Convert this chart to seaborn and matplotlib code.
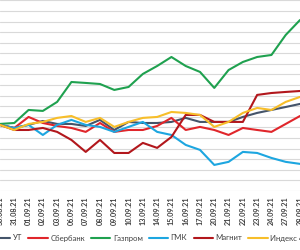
import numpy as np
import pandas as pd
import matplotlib
matplotlib.use("Agg")
import matplotlib.pyplot as plt
import seaborn as sns

dates = ["30.08.21", "31.08.21", "01.09.21", "02.09.21", "03.09.21", "06.09.21",
         "07.09.21", "08.09.21", "09.09.21", "10.09.21", "13.09.21", "14.09.21",
         "15.09.21", "16.09.21", "17.09.21", "20.09.21", "21.09.21", "22.09.21",
         "23.09.21", "24.09.21", "27.09.21", "28.09.21"]

ut = [0.24, -0.05, 0.24, 0.61, 0.33, 0.33, 0.14, 0.71, -0.24, 0.52, 0.42, 0.42,
      0.52, 0.90, 0.52, 0.52, 0.52, 0.99, 1.37, 1.65, 1.93, 2.22]
sber = [0.24, -0.05, 0.99, 0.42, 0.14, -0.05, -0.42, 0.42, -0.42, -0.24, -0.24, 0.14,
        0.90, -0.24, 0.05, -0.24, -0.71, -0.05, -0.24, -0.42, 0.33, 1.08]
gazprom = [0.33, 0.42, 1.65, 1.56, 2.41, 4.29, 4.20, 4.10, 3.54, 3.82, 5.05, 5.80,
           6.65, 5.80, 5.24, 3.73, 5.42, 6.18, 6.65, 6.84, 8.73, 10.14]
gmk = [0.24, -0.05, 0.24, -0.71, 0.24, 0.71, 0.24, 0.05, -0.42, 0.05, 0.52, -0.42,
       -0.71, -1.65, -2.12, -3.54, -3.25, -2.31, -2.41, -2.88, -3.25, -3.44]
magnit = [0.24, -0.24, -0.24, -0.05, -0.42, -1.18, -2.31, -1.18, -2.41, -2.41, -1.46, -1.93,
          -0.90, 1.18, 1.18, 0.52, 0.52, 0.52, 3.07, 3.25, 3.35, 3.44]
index4 = [0.24, -0.24, 0.33, 0.52, 0.90, 1.08, 0.52, 0.90, 0.05, 0.52, 0.90, 0.99,
          1.46, 1.37, 1.18, 0.05, 0.52, 1.37, 1.84, 1.65, 2.41, 2.88]

names = ["УТ", "Сбербанк", "Газпром", "ГМК", "Магнит", "Индекс 4х бумаг"]
colors = ["#44546A", "#E0262B", "#1FA14F", "#1DA6E0", "#B2171C", "#F7BE2A"]
series = [ut, sber, gazprom, gmk, magnit, index4]

rows = []
for n, vals in zip(names, series):
    for i, v in enumerate(vals):
        rows.append({"idx": i, "value": v, "name": n})
df = pd.DataFrame(rows)

sns.set_style("white")
plt.rcParams["font.family"] = ["Lato", "DejaVu Sans"]

fig = plt.figure(figsize=(3.0, 2.5), dpi=100)
ax = fig.add_axes([0, 1 - 191 / 250, 1, 191 / 250])

sns.lineplot(data=df, x="idx", y="value", hue="name", hue_order=names,
             palette=colors, linewidth=1.5, ax=ax, sort=False)

ax.set_xlim(2 / 14.85, 302 / 14.85)
ax.set_ylim(-6, 12.03)
ax.set_yticks(np.arange(-6, 13))
ax.yaxis.grid(True, color="#D9D9D9", linewidth=0.8)
ax.xaxis.grid(False)
ax.set_axisbelow(True)
for s in ax.spines.values():
    s.set_visible(False)
ax.set_yticklabels([])
ax.tick_params(axis="y", length=0)
ax.set_xticks(range(len(dates)))
ax.set_xticklabels(dates, rotation=90, fontsize=5.2, fontweight="bold", color="#404040")
ax.tick_params(axis="x", length=0, pad=4)
ax.set_xlabel("")
ax.set_ylabel("")

handles, labels = ax.get_legend_handles_labels()
ax.get_legend().remove()
fig.legend(handles, labels, loc="center left", bbox_to_anchor=(-0.03, 0.048),
           ncol=6, frameon=False, fontsize=5.6, handlelength=2.5, handletextpad=0.3,
           columnspacing=0.8, borderpad=0, borderaxespad=0, labelcolor="#404040")

fig.savefig("out.png", dpi=100)
